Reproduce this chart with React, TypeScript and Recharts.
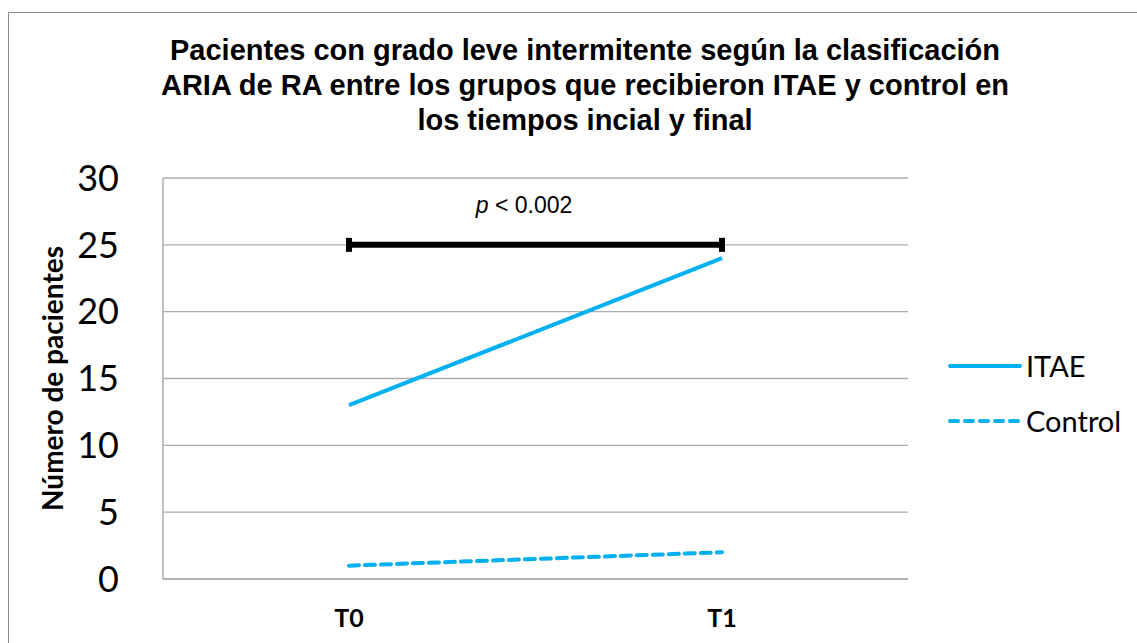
import React from 'react';
import { LineChart, Line, XAxis, YAxis, CartesianGrid, Legend } from 'recharts';

const tiempos = ['T0', 'T1'];
const itae = [13, 24];
const control = [1, 2];
const significancia = [25, 25];
const yTicks = [0, 5, 10, 15, 20, 25, 30];
const ordenLeyenda = ['ITAE', 'Control'];

const titulo = [
    'Pacientes con grado leve intermitente según la clasificación',
    'ARIA de RA entre los grupos que recibieron ITAE y control en',
    'los tiempos incial y final',
];

const data = tiempos.map((t, i) => ({
    tiempo: t,
    ITAE: itae[i],
    Control: control[i],
    sig: significancia[i],
}));

const azul = '#00B0F0';
const gris = '#ADADAD';

function CapDot(props: any) {
    const { cx, cy } = props;
    if (cx == null || cy == null) return null;
    return <rect x={cx - 3} y={cy - 7} width={6} height={14} fill="#000" />;
}

function YLabel(props: any) {
    const vb = props.viewBox || {};
    const x = vb.x - 11;
    const y = vb.y + vb.height / 2;
    return (
        <text
            x={x}
            y={y}
            transform={`rotate(-90, ${x}, ${y})`}
            textAnchor="middle"
            dominantBaseline="central"
            fontFamily="Lato, sans-serif"
            fontWeight="bold"
            fontSize={28}
            fill="#000"
        >
            Número de pacientes
        </text>
    );
}

function LegendContent(props: any) {
    const items = (props.payload || [])
        .filter((p: any) => ordenLeyenda.includes(p.value))
        .sort((a: any, b: any) => ordenLeyenda.indexOf(a.value) - ordenLeyenda.indexOf(b.value));
    return (
        <div style={{ fontFamily: 'Lato, sans-serif', fontSize: 29 }}>
            {items.map((p: any) => (
                <div key={p.value} style={{ display: 'flex', alignItems: 'center', height: 55 }}>
                    <svg width={76} height={10}>
                        <line
                            x1={2}
                            y1={5}
                            x2={72}
                            y2={5}
                            stroke={azul}
                            strokeWidth={4}
                            strokeLinecap="round"
                            strokeDasharray={p.value === 'Control' ? '8 7' : undefined}
                        />
                    </svg>
                    <span style={{ marginLeft: 2 }}>{p.value}</span>
                </div>
            ))}
        </div>
    );
}

export default function App() {
    return (
        <div style={{ position: 'absolute', left: 0, top: 0, width: 1137, height: 643, background: '#fff', overflow: 'hidden' }}>
            <div
                style={{
                    position: 'absolute',
                    left: 8,
                    top: 12,
                    width: 1140,
                    height: 640,
                    border: '1.5px solid #8C8C8C',
                    boxSizing: 'border-box',
                }}
            />
            <div
                style={{
                    position: 'absolute',
                    left: 85,
                    width: 1000,
                    top: 33,
                    textAlign: 'center',
                    fontFamily: '"Liberation Sans", Arial, sans-serif',
                    fontWeight: 'bold',
                    fontSize: 29,
                    lineHeight: '35px',
                }}
            >
                {titulo.map((l) => (
                    <div key={l}>{l}</div>
                ))}
            </div>
            <div
                style={{
                    position: 'absolute',
                    left: 424,
                    width: 200,
                    top: 192,
                    textAlign: 'center',
                    fontFamily: '"Liberation Sans", Arial, sans-serif',
                    fontSize: 23,
                }}
            >
                <i>p</i> &lt; 0.002
            </div>
            <LineChart
                width={1137}
                height={643}
                data={data}
                margin={{ top: 178, right: 229, bottom: 0, left: 63 }}
                style={{ position: 'absolute', left: 0, top: 0 }}
            >
                <CartesianGrid vertical={false} stroke={gris} strokeWidth={1.3} />
                <XAxis
                    dataKey="tiempo"
                    height={64}
                    padding={{ left: 186, right: 186 }}
                    axisLine={{ stroke: gris, strokeWidth: 1.5 }}
                    tickLine={false}
                    tick={{ fill: '#000', fontSize: 25, fontWeight: 'bold', fontFamily: 'Lato, sans-serif' }}
                    tickMargin={24}
                />
                <YAxis
                    width={100}
                    domain={[0, 30]}
                    ticks={yTicks}
                    axisLine={{ stroke: gris, strokeWidth: 1.5 }}
                    tickLine={false}
                    tickMargin={38}
                    tick={{ fill: '#000', fontSize: 36, fontFamily: 'Lato, sans-serif' }}
                    label={<YLabel />}
                />
                <Legend
                    layout="vertical"
                    align="center"
                    verticalAlign="middle"
                    content={<LegendContent />}
                    wrapperStyle={{ left: 948, top: 338, width: 180 }}
                />
                <Line
                    dataKey="ITAE"
                    stroke={azul}
                    strokeWidth={4}
                    dot={false}
                    isAnimationActive={false}
                />
                <Line
                    dataKey="Control"
                    stroke={azul}
                    strokeWidth={4}
                    strokeDasharray="10 6"
                    strokeLinecap="round"
                    dot={false}
                    isAnimationActive={false}
                />
                <Line
                    dataKey="sig"
                    stroke="#000"
                    strokeWidth={6}
                    dot={<CapDot />}
                    legendType="none"
                    isAnimationActive={false}
                />
            </LineChart>
        </div>
    );
}
